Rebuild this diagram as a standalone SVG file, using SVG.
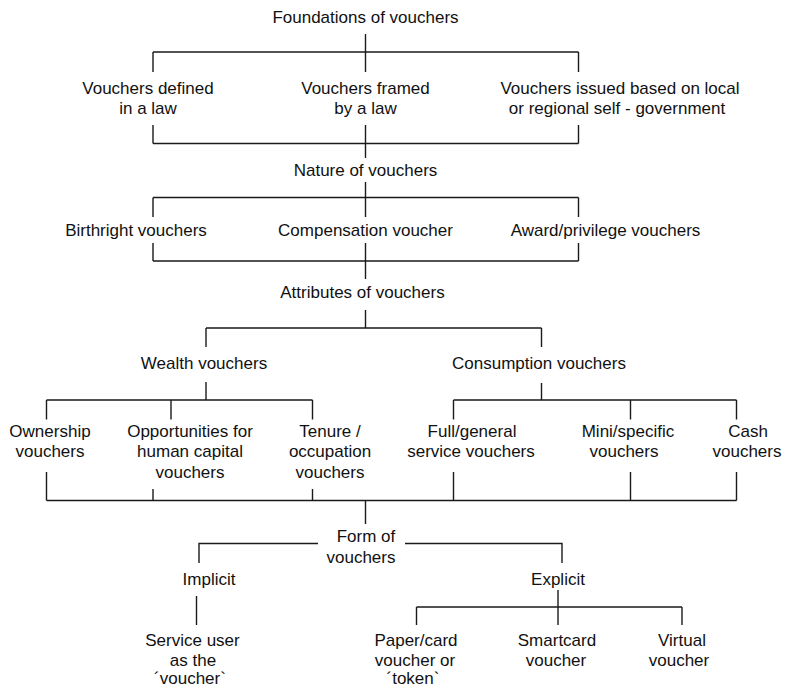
<svg xmlns="http://www.w3.org/2000/svg" width="787" height="687" viewBox="0 0 787 687">
  <style>
    text { font-family: "Liberation Sans", Arial, Helvetica, sans-serif; font-size: 17px; fill: #111; text-anchor: middle; }
    .wire { fill: none; stroke: #1a1a1a; stroke-width: 1.4; stroke-linecap: butt; }
  </style>
  <rect width="787" height="687" fill="#fff"/>

  <!-- connectors -->
  <g id="connectors" class="wire">
    <!-- foundations -> three legal bases -->
    <path d="M365.5 34 V72 M153 52 H578.5 M153 52 V72 M578.5 52 V72"/>
    <!-- legal bases -> nature -->
    <path d="M153 125 V143.5 M365.5 125 V158 M578.5 125 V143.5 M153 143.5 H578.5"/>
    <!-- nature -> three kinds -->
    <path d="M365.5 182 V217 M153 197.5 H578.5 M153 197.5 V217 M578.5 197.5 V217"/>
    <!-- kinds -> attributes -->
    <path d="M153 243 V261 M365.5 243 V279 M578.5 243 V261 M153 261 H578.5"/>
    <!-- attributes -> wealth / consumption -->
    <path d="M365.5 310 V328 M206 328 H541.5 M206 328 V347 M541.5 328 V347"/>
    <!-- wealth -> sub-types -->
    <path d="M206 382 V400 M46.5 400 H312.5 M46.5 400 V419.5 M171 400 V419.5 M312.5 400 V419.5"/>
    <!-- consumption -> sub-types -->
    <path d="M541.5 383 V400 M453.5 400 H736.5 M453.5 400 V419.5 M630.5 400 V419.5 M736.5 400 V419.5"/>
    <!-- sub-types -> form -->
    <path d="M46.5 472 V500.5 M153 489 V500.5 M312.5 489 V500.5 M453.5 472 V500.5 M630.5 472 V500.5 M736.5 472 V500.5 M46.5 500.5 H736.5 M365.5 500.5 V524"/>
    <!-- form -> implicit / explicit -->
    <path d="M199 563 V543.5 H318 M405 543.5 H562 V563"/>
    <!-- implicit -> service user -->
    <path d="M196.5 596 V625"/>
    <!-- explicit -> media -->
    <path d="M558 590 V625 M416.5 607 H682 M416.5 607 V625 M682 607 V625"/>
  </g>

  <g id="foundations"><text x="365.5" y="23">Foundations of vouchers</text></g>

  <g id="defined-in-law"><text x="148" y="93.5">Vouchers defined</text><text x="148" y="113.5">in a law</text></g>
  <g id="framed-by-law"><text x="365.5" y="93.5">Vouchers framed</text><text x="365.5" y="113.5">by a law</text></g>
  <g id="self-government"><text x="620" y="93.5">Vouchers issued based on local</text><text x="617" y="113.5">or regional self - government</text></g>

  <g id="nature"><text x="365.5" y="176">Nature of vouchers</text></g>

  <g id="birthright"><text x="136" y="236">Birthright vouchers</text></g>
  <g id="compensation"><text x="365.5" y="236">Compensation voucher</text></g>
  <g id="award"><text x="605.5" y="236">Award/privilege vouchers</text></g>

  <g id="attributes"><text x="362.5" y="298">Attributes of vouchers</text></g>

  <g id="wealth"><text x="204" y="369">Wealth vouchers</text></g>
  <g id="consumption"><text x="539" y="369">Consumption vouchers</text></g>

  <g id="ownership"><text x="50" y="437">Ownership</text><text x="50" y="457">vouchers</text></g>
  <g id="human-capital"><text x="190" y="437">Opportunities for</text><text x="190" y="457">human capital</text><text x="190" y="478">vouchers</text></g>
  <g id="tenure"><text x="330" y="437">Tenure /</text><text x="330" y="457">occupation</text><text x="330" y="478">vouchers</text></g>
  <g id="full-general"><text x="472" y="437">Full/general</text><text x="471" y="457">service vouchers</text></g>
  <g id="mini-specific"><text x="628" y="437">Mini/specific</text><text x="624" y="457">vouchers</text></g>
  <g id="cash"><text x="748" y="437">Cash</text><text x="747" y="457">vouchers</text></g>

  <g id="form"><text x="366" y="542">Form of</text><text x="361" y="563">vouchers</text></g>

  <g id="implicit"><text x="209" y="585">Implicit</text></g>
  <g id="explicit"><text x="558" y="585">Explicit</text></g>

  <g id="service-user"><text x="192.5" y="646">Service user</text><text x="193" y="666">as the</text><text x="190" y="684">´voucher`</text></g>
  <g id="paper-card"><text x="416" y="646">Paper/card</text><text x="415" y="666">voucher or</text><text x="413" y="684">´token`</text></g>
  <g id="smartcard"><text x="557" y="646">Smartcard</text><text x="556" y="666">voucher</text></g>
  <g id="virtual"><text x="682" y="646">Virtual</text><text x="679" y="666">voucher</text></g>
</svg>
